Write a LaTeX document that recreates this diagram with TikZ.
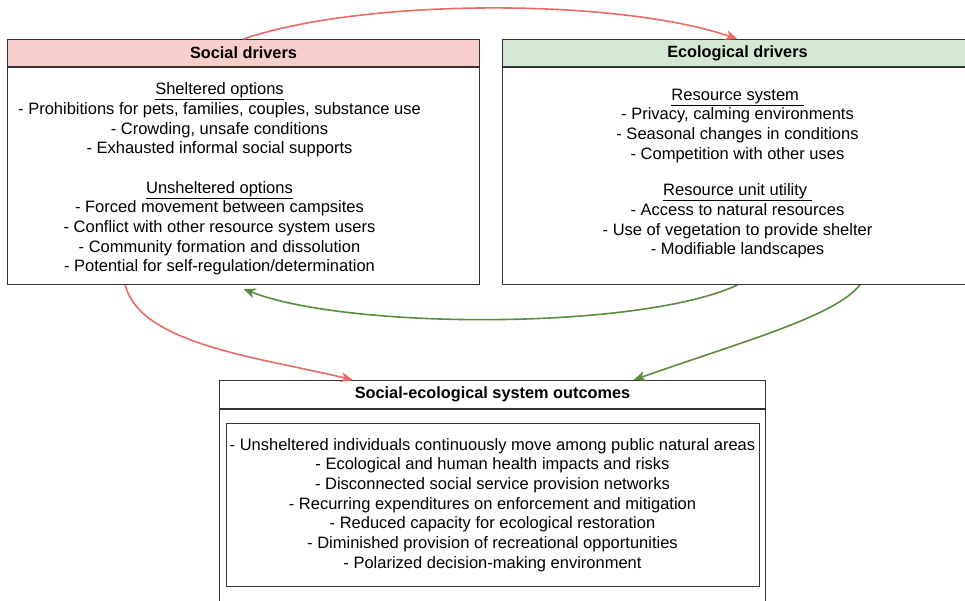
\documentclass[tikz,border=0pt]{standalone}
\usepackage{fontspec}
\setmainfont{Liberation Sans}
\usetikzlibrary{positioning,arrows.meta,calc}

\definecolor{socialpink}{HTML}{F8CECC}
\definecolor{ecogreen}{HTML}{D5E8D4}
\definecolor{redline}{HTML}{EA6B66}
\definecolor{greenline}{HTML}{5A8C3E}
\definecolor{boxline}{HTML}{333333}

\begin{document}
\begin{tikzpicture}[x=1pt,y=-1pt,
  head/.style={draw=boxline,line width=1pt,inner sep=0pt,font=\fontsize{16.3}{19}\selectfont\bfseries},
  body/.style={draw=boxline,line width=1pt,inner sep=0pt,align=center,font=\fontsize{16.5}{19.7}\selectfont},
  bodytext/.style={inner sep=0pt,align=center,font=\fontsize{16.5}{19.7}\selectfont},
  redarrow/.style={draw=redline,line width=1.6pt,-{Stealth[length=12pt,width=10pt,inset=3.5pt]}},
  greenarrow/.style={draw=greenline,line width=1.6pt,-{Stealth[length=12pt,width=10pt,inset=3.5pt]}}]
\path[use as bounding box,clip] (0,0) rectangle (965,601);

% drivers
\node [head,fill=socialpink,anchor=north west,minimum width=472pt,minimum height=27pt] (socialhead) at (7,39) {Social drivers};
\node [body,below=0pt of socialhead,minimum width=472pt,minimum height=217pt] (socialbody) {};
\node [bodytext] (socialtext) at ([xshift=-24pt,yshift=-3pt]socialbody.center)
  {\underline{Sheltered options}\\
   - Prohibitions for pets, families, couples, substance use\\
   - Crowding, unsafe conditions\\
   - Exhausted informal social supports\\[19.7pt]
   \underline{Unsheltered options}\\
   - Forced movement between campsites\\
   - Conflict with other resource system users\\
   - Community formation and dissolution\\
   - Potential for self-regulation/determination};

\node [head,fill=ecogreen,anchor=north west,minimum width=470pt,minimum height=27pt] (ecohead) at (502,39) {Ecological drivers};
\node [body,below=0pt of ecohead,minimum width=470pt,minimum height=217pt] (ecobody) {};
\node [bodytext] (ecotext) at ([yshift=2.5pt]ecobody.center)
  {\underline{Resource system\ }\\
   - Privacy, calming environments\\
   - Seasonal changes in conditions\\
   - Competition with other uses\\[17pt]
   \underline{Resource unit utility\ }\\
   - Access to natural resources\\
   - Use of vegetation to provide shelter\\
   - Modifiable landscapes};

% outcomes
\node [head,anchor=north west,minimum width=546pt,minimum height=28pt] (outhead) at (219,380) {Social-ecological system outcomes};
\node [body,below=0pt of outhead,minimum width=546pt,minimum height=230pt] (outbody) {};
\node [body,below=14pt of outhead,minimum width=533pt,minimum height=163pt] (outlist)
  {- Unsheltered individuals continuously move among public natural areas\\
   - Ecological and human health impacts and risks\\
   - Disconnected social service provision networks\\
   - Recurring expenditures on enforcement and mitigation\\
   - Reduced capacity for ecological restoration\\
   - Diminished provision of recreational opportunities\\
   - Polarized decision-making environment};

% links
\draw [redarrow] (socialhead.north) .. controls +(120,-41) and +(-120,-41) .. (ecohead.north);
\draw [redarrow] ($(socialbody.south west)!0.25!(socialbody.south east)$)
  .. controls +(15,60) and +(-90,-22) .. ($(outhead.north west)!0.245!(outhead.north east)$);
\draw [greenarrow] (ecobody.south) .. controls +(-97,45) and +(105,41) .. ([yshift=-4pt]socialbody.south);
\draw [greenarrow] ($(ecobody.south west)!0.76!(ecobody.south east)$)
  .. controls +(-26,32) and +(107,-38) .. ($(outhead.north west)!0.758!(outhead.north east)$);
\end{tikzpicture}
\end{document}
